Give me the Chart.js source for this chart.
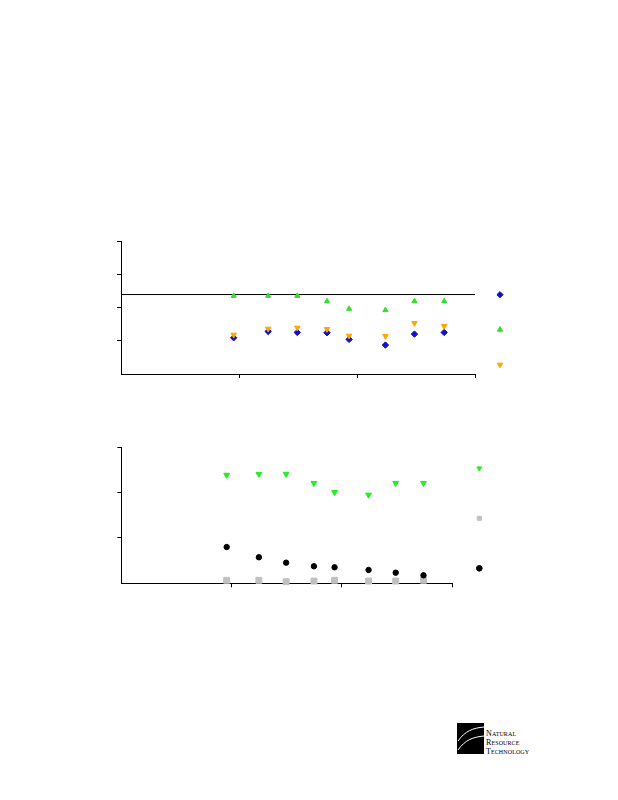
<!DOCTYPE html>
<html>
<head>
<meta charset="utf-8">
<script src="https://cdn.jsdelivr.net/npm/chart.js@4/dist/chart.umd.min.js"></script>
<style>
  html, body { margin: 0; padding: 0; background: #ffffff; }
  #page { position: relative; width: 618px; height: 800px; overflow: hidden; background: #fff; }
  canvas { position: absolute; left: 0; }
  #logo { position: absolute; left: 457px; top: 723px; width: 80px; height: 32px; }
  #logo svg { position: absolute; left: 0; top: 0; }
  #logo .t { position: absolute; left: 29px; font-family: "Liberation Serif", "DejaVu Serif", serif; font-size: 6px; line-height: 7px; color: #000; letter-spacing: 0.1px; white-space: nowrap; }
  #logo .t b { font-weight: normal; font-size: 8px; }
</style>
</head>
<body>
<div id="page">
  <canvas id="c1" width="618" height="200" style="top:200px;width:618px;height:200px"></canvas>
  <canvas id="c2" width="618" height="200" style="top:420px;width:618px;height:200px"></canvas>
  <div id="logo">
    <svg width="28" height="32" viewBox="0 0 28 32">
      <rect x="0" y="0" width="27" height="31" fill="#000"/>
      <path d="M1 18 C 8 8, 16 5, 27 4" stroke="#fff" stroke-width="1" fill="none"/>
      <path d="M1 27 C 8 17, 16 14, 27 13" stroke="#fff" stroke-width="1" fill="none"/>
    </svg>
    <div class="t" style="top:7px"><b>N</b>ATURAL</div>
    <div class="t" style="top:16px"><b>R</b>ESOURCE</div>
    <div class="t" style="top:25px"><b>T</b>ECHNOLOGY</div>
  </div>
</div>
<script>
// Shared x positions (sampling events)
const xValues = [0.955, 1.247, 1.494, 1.746, 1.933, 2.241, 2.487, 2.739];

// Upper chart series
const upperBlue   = [1.09, 1.28, 1.25, 1.24, 1.04, 0.87, 1.20, 1.25];
const upperGreen  = [2.35, 2.35, 2.35, 2.19, 1.96, 1.92, 2.19, 2.19];
const upperOrange = [1.18, 1.36, 1.39, 1.35, 1.15, 1.14, 1.53, 1.44];
const upperRefLine = 2.39;
const upperXTicks = [0, 1, 2, 3];
const upperYTicks = [0, 1, 2, 3, 4];

// Lower chart series
const lowerGreen = [2.39, 2.41, 2.41, 2.21, 2.01, 1.95, 2.21, 2.21];
const lowerGray  = [0.066, 0.066, 0.035, 0.05, 0.066, 0.05, 0.05, 0.066];
const lowerBlack = [0.80, 0.574, 0.455, 0.375, 0.353, 0.294, 0.234, 0.176];
const lowerXTicks = [0, 1, 2, 3];
const lowerYTicks = [0, 1, 2, 3];

function pts(ys) { return ys.map((y, i) => ({ x: xValues[i], y })); }

function series(data, color, style, radius, rotation, order) {
  return {
    type: 'scatter', label: '', data: pts(data),
    backgroundColor: color, borderColor: color, borderWidth: 1,
    pointStyle: style, pointRadius: radius, pointRotation: rotation || 0,
    pointHoverRadius: radius, clip: false, order: order
  };
}

function axis(ticks, tickLen, size, isX) {
  const mn = ticks[0], mx = ticks[ticks.length - 1];
  return {
    type: 'linear', min: mn, max: mx,
    afterBuildTicks: (s) => { s.ticks = ticks.map(v => ({ value: v })); },
    afterFit: (s) => { if (isX) s.height = size; else s.width = size; },
    ticks: { display: false },
    grid: {
      display: true, drawOnChartArea: false, drawTicks: true, tickLength: tickLen,
      tickWidth: 1,
      tickColor: (ctx) => (ctx.tick && ctx.tick.value === mn) ? 'rgba(0,0,0,0)' : '#000'
    },
    border: { display: true, color: '#000', width: 1 }
  };
}

function makeChart(id, datasets, cfg) {
  return new Chart(document.getElementById(id), {
    type: 'scatter',
    data: { datasets },
    options: {
      responsive: false, animation: false, devicePixelRatio: 1,
      events: [],
      layout: { autoPadding: false, padding: { top: 0, left: 0, bottom: 0, right: cfg.padRight } },
      scales: {
        x: axis(cfg.xTicks, 4, cfg.xHeight, true),
        y: axis(cfg.yTicks, 4, cfg.yWidth, false)
      },
      plugins: {
        tooltip: { enabled: false },
        title: { display: true, text: '', font: { size: 10 }, padding: { top: 0, bottom: cfg.titlePad } },
        legend: {
          display: true, position: 'right', align: 'start',
          title: { display: true, text: '', font: { size: 10 }, padding: { top: 0, bottom: cfg.legendTitlePad } },
          labels: {
            usePointStyle: true, font: { size: cfg.legendFont }, padding: cfg.legendPad,
            boxWidth: 20, boxHeight: cfg.legendBox,
            filter: (item, data) => !data.datasets[item.datasetIndex].isRef,
            sort: (a, b) => a.datasetIndex - b.datasetIndex
          }
        }
      }
    }
  });
}

// Upper chart
const refLine = {
  type: 'line', label: '', isRef: true,
  data: [{ x: upperXTicks[0], y: upperRefLine }, { x: upperXTicks[upperXTicks.length - 1], y: upperRefLine }],
  borderColor: '#000', borderWidth: 1, pointRadius: 0, showLine: true, fill: false, order: 5
};
makeChart('c1', [
  series(upperBlue, '#1010c8', 'rectRot', 3.2, 0, 3),
  series(upperGreen, '#33dd33', 'triangle', 3, 0, 2),
  series(upperOrange, '#ffa500', 'triangle', 3.2, 180, 1),
  refLine
], {
  padRight: 88, xHeight: 26, yWidth: 121, titlePad: 29,
  legendTitlePad: 57.7, legendFont: 20, legendPad: 15, legendBox: 4.4,
  xTicks: upperXTicks, yTicks: upperYTicks
});

// Lower chart
makeChart('c2', [
  series(lowerGreen, '#22ee22', 'triangle', 3.4, 180, 1),
  series(lowerGray, '#c0c0c0', 'rect', 4.2, 0, 3),
  series(lowerBlack, '#000000', 'circle', 2.7, 0, 2)
], {
  padRight: 102.2, xHeight: 36.7, yWidth: 121.3, titlePad: 15.3,
  legendTitlePad: 2.8, legendFont: 33, legendPad: 17, legendBox: 4.0,
  xTicks: lowerXTicks, yTicks: lowerYTicks
});
</script>
</body>
</html>
